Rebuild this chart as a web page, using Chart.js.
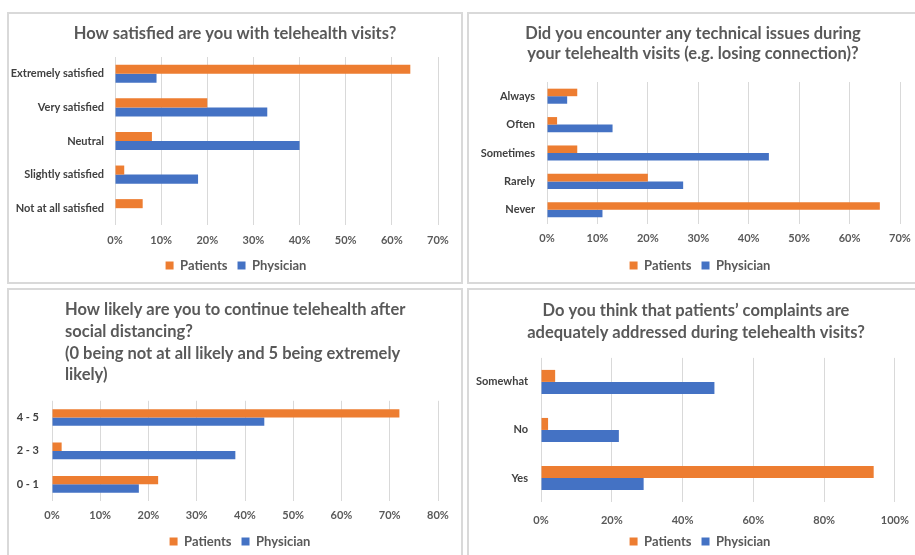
<!DOCTYPE html>
<html><head><meta charset="utf-8">
<script src="https://cdn.jsdelivr.net/npm/chart.js@4/dist/chart.umd.min.js"></script>
<style>
html,body{margin:0;padding:0;background:#fff;width:915px;height:555px;overflow:hidden;position:relative;}
.panel{position:absolute;box-sizing:border-box;border:2px solid #d9d9d9;background:#fff;}
.panel canvas{display:block;}
</style></head><body>
<div class="panel" style="left:7px;top:12px;width:456px;height:272px"><canvas id="c1" width="452" height="268"></canvas></div>
<div class="panel" style="left:467px;top:12px;width:456px;height:272px"><canvas id="c2" width="452" height="268"></canvas></div>
<div class="panel" style="left:7px;top:288px;width:456px;height:272px"><canvas id="c3" width="452" height="268"></canvas></div>
<div class="panel" style="left:467px;top:288px;width:456px;height:272px"><canvas id="c4" width="452" height="268"></canvas></div>
<script>
// ---- data ----
const seriesNames = ['Patients', 'Physician'];

const satisfactionTitle = ['How satisfied are you with telehealth visits?'];
const satisfactionCategories = ['Extremely satisfied', 'Very satisfied', 'Neutral', 'Slightly satisfied', 'Not at all satisfied'];
const satisfactionPatients = [64, 20, 8, 2, 6];
const satisfactionPhysician = [9, 33, 40, 18, 0];

const issuesTitle = ['Did you encounter any technical issues during', 'your telehealth visits (e.g. losing connection)?'];
const issuesCategories = ['Always', 'Often', 'Sometimes', 'Rarely', 'Never'];
const issuesPatients = [6, 2, 6, 20, 66];
const issuesPhysician = [4, 13, 44, 27, 11];

const continueTitle = ['How likely are you to continue telehealth after', 'social distancing?', '(0 being not at all likely and 5 being extremely', 'likely)'];
const continueCategories = ['4 - 5', '2 - 3', '0 - 1'];
const continuePatients = [72, 2, 22];
const continuePhysician = [44, 38, 18];

const complaintsTitle = ['Do you think that patients\u2019 complaints are', 'adequately addressed during telehealth visits?'];
const complaintsCategories = ['Somewhat', 'No', 'Yes'];
const complaintsPatients = [4, 2, 94];
const complaintsPhysician = [49, 22, 29];

// ---- styling ----
const ORANGE = '#ED7D31';
const BLUE = '#4472C4';
const TEXT = '#595959';
const FONT = 'Lato, "Open Sans", sans-serif';

const boxFix = {
  id: 'boxFix',
  afterLayout(chart, args, o) {
    const t = chart.titleBlock, l = chart.legend, x = chart.scales.x;
    if (t && o.titleLeft != null) { t.left = o.titleLeft; t.right = o.titleRight; t.width = t.right - t.left; }
    if (l && o.legendLeft != null) { l.left = o.legendLeft; l.right = o.legendRight; l.width = l.right - l.left; }
    if (x) { x.bottom = x.top + 32; }
  }
};

function makeChart(id, c) {
  new Chart(document.getElementById(id), {
    type: 'bar',
    data: {
      labels: c.categories,
      datasets: [
        { label: seriesNames[0], data: c.patients, backgroundColor: ORANGE, barPercentage: 1, categoryPercentage: c.catPct },
        { label: seriesNames[1], data: c.physician, backgroundColor: BLUE, barPercentage: 1, categoryPercentage: c.catPct }
      ]
    },
    plugins: [boxFix],
    options: {
      indexAxis: 'y',
      responsive: false,
      animation: false,
      layout: { padding: { left: 0, right: c.padRight, top: 0, bottom: 0 } },
      scales: {
        x: {
          min: 0, max: c.xMax,
          ticks: { stepSize: c.xStep, padding: c.xPad, color: TEXT, font: { family: FONT, size: 11, weight: 'bold' }, callback: v => v + '%' },
          grid: { color: '#d9d9d9', lineWidth: 1, drawTicks: false },
          border: { display: false },
          afterFit: s => { s.height = c.xHeight; }
        },
        y: {
          ticks: { padding: c.yPad, color: '#404040', autoSkip: false, font: { family: FONT, size: 11, weight: 'bold' } },
          grid: { display: false, drawTicks: false },
          border: { display: false },
          afterFit: s => { s.width = c.yWidth; }
        }
      },
      plugins: {
        title: {
          display: true, text: c.title, align: c.titleAlign, color: TEXT,
          font: { family: FONT, size: 16.5, weight: 'bold', lineHeight: c.titleLH },
          padding: { top: c.titleTop, bottom: c.titleBottom }
        },
        legend: {
          position: 'bottom',
          labels: { boxWidth: 8, boxHeight: 8, padding: 10, color: TEXT, font: { family: FONT, size: 13, weight: 'bold' } }
        },
        tooltip: { enabled: false },
        boxFix: { titleLeft: c.tL, titleRight: c.tR, legendLeft: 0, legendRight: c.lR }
      }
    }
  });
}

makeChart('c1', {
  categories: satisfactionCategories, patients: satisfactionPatients, physician: satisfactionPhysician,
  title: satisfactionTitle, titleAlign: 'center', titleLH: 1.2, titleTop: 10, titleBottom: 13.2,
  xMax: 70, xStep: 10, xPad: 9, xHeight: 24, yWidth: 106, yPad: 11, padRight: 23, catPct: 0.54,
  tL: 0, tR: 452, lR: 454
});
makeChart('c2', {
  categories: issuesCategories, patients: issuesPatients, physician: issuesPhysician,
  title: issuesTitle, titleAlign: 'center', titleLH: 1.2, titleTop: 10, titleBottom: 18.4,
  xMax: 70, xStep: 10, xPad: 8, xHeight: 25, yWidth: 78, yPad: 12, padRight: 21, catPct: 0.53,
  tL: 0, tR: 448, lR: 462
});
makeChart('c3', {
  categories: continueCategories, patients: continuePatients, physician: continuePhysician,
  title: continueTitle, titleAlign: 'start', titleLH: 1.315, titleTop: 9, titleBottom: 15,
  xMax: 80, xStep: 10, xPad: 8, xHeight: 24, yWidth: 43, yPad: 13, padRight: 23, catPct: 0.5,
  tL: 56, tR: 452, lR: 462
});
makeChart('c4', {
  categories: complaintsCategories, patients: complaintsPatients, physician: complaintsPhysician,
  title: complaintsTitle, titleAlign: 'center', titleLH: 1.33, titleTop: 10, titleBottom: 14,
  xMax: 100, xStep: 20, xPad: 12, xHeight: 23, yWidth: 72, yPad: 13, padRight: 20, catPct: 0.5,
  tL: 0, tR: 454, lR: 462
});
</script>
</body></html>
